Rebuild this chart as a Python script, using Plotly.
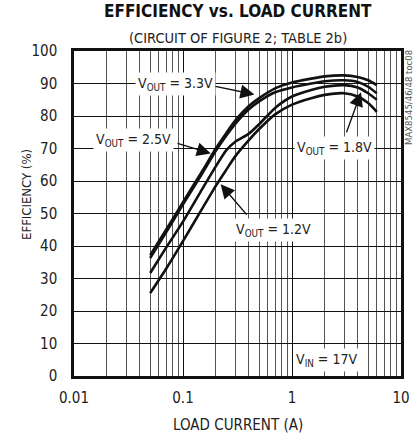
import numpy as np
import plotly.graph_objects as go

# ---- data ----
load_current = [0.05, 0.07, 0.1, 0.15, 0.2, 0.25, 0.3, 0.4, 0.5, 0.7, 1, 1.5, 2, 3, 4, 5, 6]
eff_3v3 = [37.2, 45.0, 53.5, 63.0, 70.0, 74.8, 78.5, 83.0, 85.5, 88.5, 90.3, 91.5, 92.2, 92.5, 92.0, 91.0, 89.5]
eff_2v5 = [36.3, 44.2, 52.8, 62.3, 69.3, 74.0, 77.5, 82.0, 84.5, 87.3, 88.8, 90.0, 90.7, 91.0, 90.5, 89.0, 87.0]
eff_1v8 = [31.7, 39.5, 47.5, 57.5, 64.5, 69.5, 72.0, 74.5, 77.5, 82.5, 86.0, 88.0, 89.0, 89.5, 88.8, 87.0, 85.0]
eff_1v2 = [25.5, 33.0, 41.5, 51.5, 58.5, 63.5, 67.5, 72.5, 76.0, 80.5, 83.5, 85.5, 86.5, 87.0, 86.0, 84.0, 81.3]
series = [("3.3V", eff_3v3), ("2.5V", eff_2v5), ("1.8V", eff_1v8), ("1.2V", eff_1v2)]

x_tickvals = [0.01, 0.1, 1, 10]
x_ticktext = ["0.01", "0.1", "1", "10"]
y_tickvals = list(range(0, 101, 10))

FONT = "DejaVu Sans Condensed, Liberation Sans, sans-serif"

fig = go.Figure()
for name, vals in series:
    fig.add_trace(go.Scatter(x=load_current, y=vals, mode="lines", name=name,
                             line=dict(color="#111111", width=2.6, shape="spline", smoothing=0.6),
                             showlegend=False, hoverinfo="skip"))

fig.update_layout(
    width=417, height=442,
    margin=dict(l=74, r=16, t=51, b=66, autoexpand=False),
    paper_bgcolor="white", plot_bgcolor="white",
    font=dict(family=FONT, size=15, color="#222222"),
    showlegend=False,
)

fig.update_xaxes(
    type="log", range=[-2, 1], automargin=False,
    tickvals=x_tickvals, ticktext=x_ticktext,
    showgrid=True, gridcolor="#111111", gridwidth=1.3,
    minor=dict(dtick="D1", showgrid=True, gridcolor="#555555", gridwidth=1, ticks=""),
    showline=True, linecolor="#111111", linewidth=2.5, mirror=True,
    ticks="", zeroline=False, ticklabelstandoff=6,
    tickfont=dict(family=FONT, size=15, color="#222222"),
)
fig.update_yaxes(
    range=[0, 100], tickvals=y_tickvals, automargin=False,
    showgrid=True, gridcolor="#111111", gridwidth=1.3,
    showline=True, linecolor="#111111", linewidth=2.5, mirror=True,
    ticks="", zeroline=False, ticklabelstandoff=11,
    tickfont=dict(family=FONT, size=15, color="#222222"),
)

ann = []
# titles
ann.append(dict(text="<b>EFFICIENCY vs. LOAD CURRENT</b>", xref="paper", yref="paper",
                x=0.5, y=1.0, yshift=40, xanchor="center", yanchor="middle",
                showarrow=False, font=dict(family=FONT, size=17, color="#111111")))
ann.append(dict(text="(CIRCUIT OF FIGURE 2; TABLE 2b)", xref="paper", yref="paper",
                x=0.5, y=1.0, yshift=13, xanchor="center", yanchor="middle",
                showarrow=False, font=dict(family=FONT, size=14.5, color="#222222")))
# axis titles
ann.append(dict(text="LOAD CURRENT (A)", xref="paper", yref="paper", x=0.5, y=0, yshift=-49,
                xanchor="center", yanchor="middle", showarrow=False,
                font=dict(family=FONT, size=15, color="#222222")))
ann.append(dict(text="EFFICIENCY (%)", xref="paper", yref="paper", x=0, xshift=-47, y=0.557,
                xanchor="center", yanchor="middle", textangle=-90, showarrow=False,
                font=dict(family=FONT, size=13, color="#222222")))
ann.append(dict(text="MAX8545/46/48 toc08", xref="paper", yref="paper", x=1, xshift=7, y=1, yshift=-47,
                xanchor="center", yanchor="middle", textangle=-90, showarrow=False,
                font=dict(family=FONT, size=9.5, color="#555555")))

# curve labels (x in log10 units)
labels = [
    ("V<sub>OUT</sub> = 3.3V", -1.073, 89.8),
    ("V<sub>OUT</sub> = 2.5V", -1.45, 72.6),
    ("V<sub>OUT</sub> = 1.8V", 0.394, 70.2),
    ("V<sub>OUT</sub> = 1.2V", -0.174, 44.9),
]
for t, lx, ly in labels:
    ann.append(dict(text=t, x=lx, y=ly, xref="x", yref="y", showarrow=False,
                    bgcolor="white", borderpad=2,
                    font=dict(family=FONT, size=14, color="#222222")))
ann.append(dict(text="V<sub>IN</sub> = 17V", x=0.62, y=4.9, xref="x", yref="y", xanchor="right",
                showarrow=False, bgcolor="white", borderpad=2,
                font=dict(family=FONT, size=14, color="#222222")))

arrows = [
    (-0.716, 89.2, -0.345, 86.6),
    (-1.064, 71.7, -0.745, 68.5),
    (0.495, 74.5, 0.633, 87.3),
    (-0.404, 49.2, -0.655, 59.0),
]
for ax0, ay0, x1, y1 in arrows:
    ann.append(dict(text="", x=x1, y=y1, ax=ax0, ay=ay0, xref="x", yref="y",
                    axref="x", ayref="y", showarrow=True, arrowhead=2,
                    arrowsize=2.0, arrowwidth=1.4, arrowcolor="#111111"))

fig.update_layout(annotations=ann)
# remove the browser's default 8px page margin so the figure fills the window exactly
fig.write_html("out.html", config={"displayModeBar": False},
               post_script="document.body.style.margin='0';")
